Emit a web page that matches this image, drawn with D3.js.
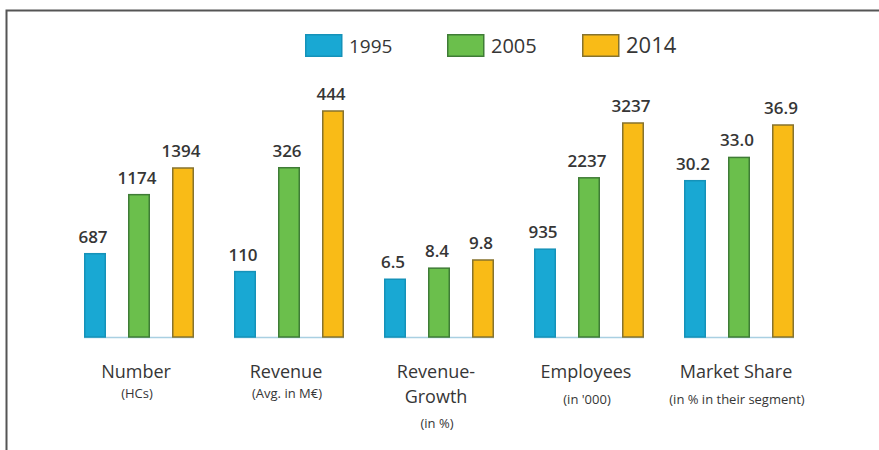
<!DOCTYPE html>
<html>
<head>
<meta charset="utf-8">
<script src="https://cdn.jsdelivr.net/npm/d3@7"></script>
<style>
  html, body { margin: 0; padding: 0; background: #fff; }
  svg { display: block; }
  text { font-family: "Open Sans", "DejaVu Sans", sans-serif; fill: #363636; }
</style>
</head>
<body>
<svg id="chart" width="879" height="450"></svg>
<script>
// ---------- data ----------
const categories = ["Number", "Revenue", "Revenue-Growth", "Employees", "Market Share"];
const categoryTitles = [["Number"], ["Revenue"], ["Revenue-", "Growth"], ["Employees"], ["Market Share"]];
const categoryUnits = ["(HCs)", "(Avg. in M€)", "(in %)", "(in '000)", "(in % in their segment)"];
const years = ["1995", "2005", "2014"];
const values1995 = [687, 110, 6.5, 935, 30.2];
const values2005 = [1174, 326, 8.4, 2237, 33.0];
const values2014 = [1394, 444, 9.8, 3237, 36.9];
const valueFormats = ["d", "d", ".1f", "d", ".1f"];

// ---------- layout / style config ----------
const W = 879, H = 450;
const baseline = 337;
// each group has its own value scale (units differ between groups)
const groupDomainMin = [0, -26, -3.4, -667, 11.4];
const groupMaxHeight = [169, 226, 77, 214, 212];
const unitBaselines = [398, 398, 428, 404, 404];
const colors = { "1995": "#19a8d3", "2005": "#6bbf4c", "2014": "#f9bb17" };
const strokes = { "1995": "#1592b9", "2005": "#3f7c36", "2014": "#86732e" };
const legendX = [305, 447, 582];
const legendFont = [19, 20, 22];

const series = { "1995": values1995, "2005": values2005, "2014": values2014 };

const svg = d3.select("#chart");

// frame
svg.append("path")
  .attr("d", `M6.5,${H} L6.5,10.5 L${W},10.5`)
  .attr("fill", "none").attr("stroke", "#555").attr("stroke-width", 2);

// scales
const x0 = d3.scaleBand().domain(categories).range([64, 814]).padding(0);
const x1 = d3.scaleBand().domain(years).range([9, x0.bandwidth() - 9])
  .paddingInner(0.5).paddingOuter(0.25);

const yScales = categories.map((c, i) => {
  const maxV = d3.max(years, y => series[y][i]);
  return d3.scaleLinear().domain([groupDomainMin[i], maxV])
    .range([baseline, baseline - groupMaxHeight[i]]);
});

const groups = svg.selectAll("g.group").data(categories).join("g")
  .attr("class", "group")
  .attr("transform", d => `translate(${x0(d)},0)`);

// baseline line under each group
groups.append("line")
  .attr("x1", x1(years[0]))
  .attr("x2", x1(years[years.length - 1]) + x1.bandwidth())
  .attr("y1", baseline + 0.5).attr("y2", baseline + 0.5)
  .attr("stroke", "#a9d0e2").attr("stroke-width", 1.5);

groups.each(function(cat, i) {
  const g = d3.select(this);
  const recs = years.map(y => ({ year: y, value: series[y][i] }));
  const ys = yScales[i];
  const fmt = d3.format(valueFormats[i]);

  g.selectAll("rect.bar").data(recs).join("rect")
    .attr("class", "bar")
    .attr("x", d => x1(d.year) + 0.75)
    .attr("width", x1.bandwidth() - 1.5)
    .attr("y", d => ys(d.value))
    .attr("height", d => baseline - ys(d.value))
    .attr("fill", d => colors[d.year])
    .attr("stroke", d => strokes[d.year])
    .attr("stroke-width", 1.5);

  g.selectAll("text.val").data(recs).join("text")
    .attr("class", "val")
    .attr("x", d => x1(d.year) + x1.bandwidth() / 2 - 2)
    .attr("y", d => ys(d.value) - 11)
    .attr("text-anchor", "middle")
    .attr("font-size", 17)
    .attr("font-weight", 600)
    .text(d => fmt(d.value));

  const cx = x0.bandwidth() / 2 - 3;
  const titles = categoryTitles[i];
  titles.forEach((t, k) => {
    g.append("text")
      .attr("x", cx).attr("y", 378 + k * 25)
      .attr("text-anchor", "middle")
      .attr("font-size", 18)
      .text(t);
  });
  g.append("text")
    .attr("x", cx + 1).attr("y", unitBaselines[i])
    .attr("text-anchor", "middle")
    .attr("font-size", 13)
    .text(categoryUnits[i]);
});

// legend
const leg = svg.selectAll("g.legend").data(years).join("g")
  .attr("class", "legend")
  .attr("transform", (d, i) => `translate(${legendX[i]},34)`);
leg.append("rect")
  .attr("x", 0.75).attr("y", 0.75).attr("width", 36).attr("height", 21.5)
  .attr("fill", d => colors[d]).attr("stroke", d => strokes[d]).attr("stroke-width", 1.5);
leg.append("text")
  .attr("x", 44).attr("y", 19)
  .attr("font-size", (d, i) => legendFont[i])
  .text(d => d);
</script>
</body>
</html>
